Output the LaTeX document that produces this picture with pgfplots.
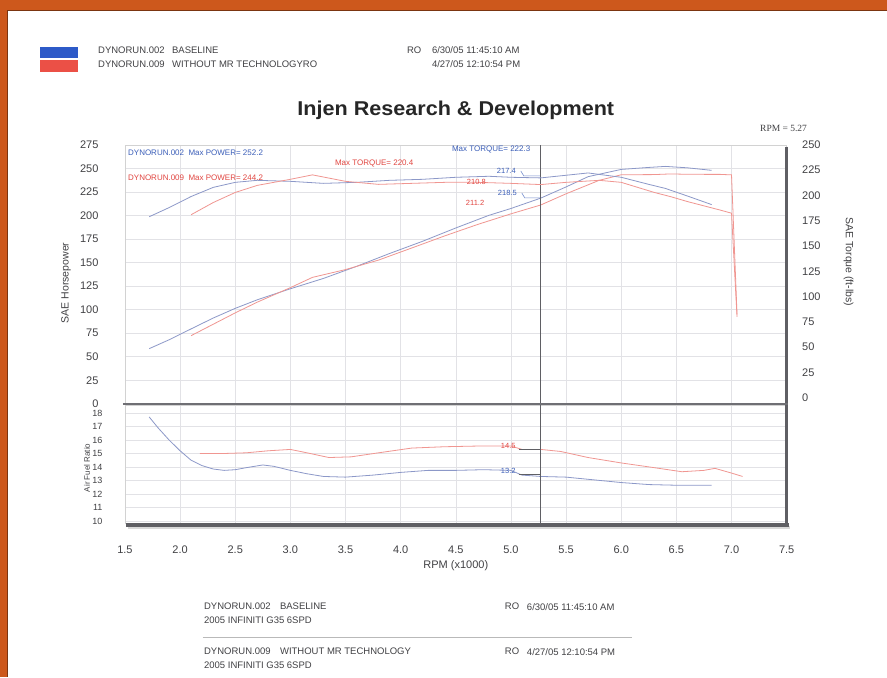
\documentclass[border=0pt]{standalone}
\usepackage{pgfplots}
\pgfplotsset{compat=1.18}
\usepackage{fontspec}
\setmainfont{Liberation Sans}
\newfontfamily\serifone{Liberation Serif}
\definecolor{frameor}{RGB}{205,88,28}
\definecolor{gridc}{RGB}{226,226,230}
\definecolor{txt}{RGB}{65,65,68}
\definecolor{cblue}{RGB}{140,152,200}
\definecolor{cred}{RGB}{240,150,145}
\definecolor{tblue}{RGB}{60,95,185}
\definecolor{tred}{RGB}{225,70,65}
\definecolor{legblue}{RGB}{45,90,200}
\definecolor{legred}{RGB}{235,80,70}
\definecolor{framec}{RGB}{95,95,100}
\newcommand{\fs}[1]{\fontsize{#1}{#1}\selectfont}
\begin{document}
\begin{tikzpicture}
\begin{scope}[x=1pt,y=1pt]
\fill[white] (0,0) rectangle (887,677);
\fill[frameor] (0,667) rectangle (887,677);
\fill[frameor] (0,0) rectangle (7,677);
\draw[frameor!60!black, line width=0.8pt] (7.4,0) -- (7.4,666.6) -- (887,666.6);
\end{scope}

% ---------- upper panel: power (left axis) ----------
\begin{axis}[at={(125pt,273pt)}, anchor=south west,
  width=662pt, height=259pt, scale only axis,
  xmin=1.5, xmax=7.5, ymin=0, ymax=275,
  xtick={1.5,2,...,7.5}, xticklabels={},
  ytick={0,25,...,275},
  grid=major, major grid style={gridc, line width=0.5pt},
  axis line style={draw=gray!35, line width=0.6pt},
  tick style={draw=none},
  /pgf/number format/assume math mode=true,
  yticklabel style={font=\fs{11}, text=txt, xshift=-23pt},
]
\addplot[cblue, line width=0.8pt] coordinates {
(1.72,58.6) (1.9,68.0) (2.1,79.6) (2.3,91.1) (2.5,101.4) (2.7,110.5) (3.0,122.2)
(3.3,133.2) (3.6,146.0) (3.9,159.7) (4.2,172.7) (4.5,186.8) (4.8,200.2) (5.0,207.5)
(5.27,218.5) (5.5,230.4) (5.7,241.3) (6.0,249.0) (6.25,251.1) (6.4,252.2) (6.6,250.7) (6.82,248.0)};
\addplot[cred, line width=0.8pt] coordinates {
(2.1,72.4) (2.3,84.5) (2.5,96.6) (2.7,108.0) (3.0,123.4) (3.2,134.3) (3.5,142.6)
(3.8,152.7) (4.1,165.5) (4.4,178.4) (4.7,190.6) (5.0,201.8) (5.27,211.2) (5.5,223.1)
(5.8,237.4) (6.0,243.3) (6.3,243.5) (6.45,244.2) (6.6,243.8) (6.9,243.7) (7.0,243.2) (7.05,95)};
\addplot[framec, line width=0.9pt] coordinates {(5.27,0) (5.27,275)};
\end{axis}

% ---------- upper panel: torque (right axis) ----------
\begin{axis}[at={(125pt,273pt)}, anchor=south west,
  width=662pt, height=259pt, scale only axis,
  xmin=1.5, xmax=7.5, ymin=-6, ymax=250,
  axis x line=none, axis y line*=right,
  y axis line style={draw=none},
  ytick={0,25,...,250},
  tick style={draw=none},
  /pgf/number format/assume math mode=true,
  yticklabel style={font=\fs{11}, text=txt, xshift=12pt},
]
\addplot[cblue, line width=0.8pt] coordinates {
(1.72,179) (1.9,188) (2.1,199) (2.3,208) (2.5,213) (2.7,215) (3.0,214) (3.3,212)
(3.6,213) (3.9,215) (4.2,216) (4.5,218) (4.8,219) (5.0,218) (5.27,217.4) (5.5,220)
(5.7,222.3) (6.0,218) (6.25,211) (6.4,207) (6.6,199.5) (6.82,191)};
\addplot[cred, line width=0.8pt] coordinates {
(2.1,181) (2.3,193) (2.5,203) (2.7,210) (3.0,216) (3.2,220.4) (3.5,214) (3.8,211)
(4.1,212) (4.4,213) (4.7,213) (5.0,212) (5.27,210.8) (5.5,213) (5.8,215) (6.0,213)
(6.3,203) (6.45,198.8) (6.6,194) (6.9,185.5) (7.0,182.5) (7.05,80)};
\end{axis}

% ---------- lower panel: air fuel ratio ----------
\begin{axis}[at={(125pt,153pt)}, anchor=south west,
  width=662pt, height=119pt, scale only axis,
  xmin=1.5, xmax=7.5, ymin=9.8, ymax=18.6,
  xtick={1.5,2,...,7.5},
  xticklabels={1.5,2.0,2.5,3.0,3.5,4.0,4.5,5.0,5.5,6.0,6.5,7.0,7.5},
  ytick={10,11,...,18},
  grid=major, major grid style={gridc, line width=0.5pt},
  axis line style={draw=gray!35, line width=0.6pt},
  tick style={draw=none},
  /pgf/number format/assume math mode=true,
  yticklabel style={font=\fs{9}, text=txt, xshift=-19pt},
  xticklabel style={font=\fs{11}, text=txt, yshift=-19pt},
]
\addplot[cblue, line width=0.8pt] coordinates {
(1.72,17.7) (1.8,16.9) (1.9,16.0) (2.0,15.2) (2.1,14.5) (2.2,14.1) (2.3,13.85) (2.4,13.75)
(2.5,13.8) (2.6,13.95) (2.75,14.15) (2.85,14.05) (3.0,13.75) (3.15,13.5) (3.3,13.3)
(3.5,13.25) (3.75,13.4) (4.0,13.6) (4.25,13.75) (4.5,13.75) (4.75,13.8) (5.0,13.75)
(5.1,13.4) (5.27,13.3) (5.5,13.25) (5.75,13.05) (6.0,12.85) (6.25,12.7) (6.5,12.65) (6.82,12.65)};
\addplot[cred, line width=0.8pt] coordinates {
(2.18,15.0) (2.4,15.0) (2.6,15.05) (2.8,15.2) (3.0,15.3) (3.15,15.05) (3.35,14.7)
(3.55,14.75) (3.8,15.05) (4.1,15.4) (4.4,15.5) (4.7,15.55) (5.0,15.55) (5.1,15.3)
(5.27,15.3) (5.45,15.15) (5.7,14.7) (6.0,14.3) (6.3,13.95) (6.55,13.65) (6.75,13.75)
(6.85,13.9) (7.0,13.55) (7.1,13.3)};
\addplot[framec, line width=0.9pt] coordinates {(5.27,9.8) (5.27,18.6)};
\end{axis}

\begin{scope}[x=1pt,y=1pt]
% frame lines
\draw[framec, line width=3pt] (787,530) -- (787,151);
\draw[framec!90, line width=2.5pt] (123,273) -- (788,273);
\draw[gray!30, line width=3pt] (128,149) -- (790,149);
\draw[framec, line width=4.5pt] (126,152) -- (789,152);
% header legend
\fill[legblue] (40,619) rectangle (78,630);
\fill[legred] (40,605) rectangle (78,617);
\begin{scope}[every node/.style={anchor=west, inner sep=0pt, font=\fs{9.5}, text=txt}]
\node at (98,627) {DYNORUN.002};
\node at (172,627) {BASELINE};
\node at (407,627) {RO};
\node at (432,627) {6/30/05 11:45:10 AM};
\node at (98,613) {DYNORUN.009};
\node at (172,613) {WITHOUT MR TECHNOLOGYRO};
\node at (432,613) {4/27/05 12:10:54 PM};
% footer
\node at (204,70) {DYNORUN.002};
\node at (280,70) {BASELINE};
\node at (505,70) {RO};
\node at (527,70) {6/30/05 11:45:10 AM};
\node at (204,56) {2005 INFINITI G35 6SPD};
\node at (204,25) {DYNORUN.009};
\node at (280,25) {WITHOUT MR TECHNOLOGY};
\node at (505,25) {RO};
\node at (527,25) {4/27/05 12:10:54 PM};
\node at (204,11) {2005 INFINITI G35 6SPD};
\end{scope}
\draw[gray!55, line width=0.6pt] (203,39) -- (632,39);
% titles
\node[font=\bfseries\fs{20}, text=black!85] at (456,567) {\scalebox{1.08}[1]{Injen Research \& Development}};
\node[font=\serifone\fs{9.5}, text=txt, anchor=west] at (757,549) {RPM = 5.27};
\node[font=\fs{10.5}, text=txt, rotate=90] at (66,394) {SAE Horsepower};
\node[font=\fs{10.5}, text=txt, rotate=-90] at (849,415) {SAE Torque (ft-lbs)};
\node[font=\fs{8}, text=txt, rotate=90] at (87,209) {Air Fuel Ratio};
\node[font=\fs{11}, text=txt] at (456,111) {RPM (x1000)};
% annotations
\begin{scope}[every node/.style={anchor=west, inner sep=0pt, font=\fs{8}}]
\node[text=tblue] at (128,524) {DYNORUN.002\ \ Max POWER= 252.2};
\node[text=tred] at (128,499) {DYNORUN.009\ \ Max POWER= 244.2};
\node[text=tred] at (335,513) {Max TORQUE= 220.4};
\node[text=tblue] at (452,527) {Max TORQUE= 222.3};
\node[text=tblue, font=\fs{7.5}] at (497,506) {217.4};
\node[text=tred, font=\fs{7.5}] at (467,495) {210.8};
\node[text=tblue, font=\fs{7.5}] at (498,484) {218.5};
\node[text=tred, font=\fs{7.5}] at (466,474) {211.2};
\node[text=tred, font=\fs{7.5}] at (501,231) {14.5};
\node[text=tblue, font=\fs{7.5}] at (501,206) {13.2};
\end{scope}
\draw[tblue!70, line width=0.6pt] (521,506) -- (524,501) -- (540,501);
\draw[tblue!70, line width=0.6pt] (522,484) -- (525,479) -- (540,479);
\draw[framec, line width=0.7pt] (519,227) -- (540,227);
\draw[framec, line width=0.7pt] (519,202) -- (540,202);
\end{scope}
\end{tikzpicture}
\end{document}
